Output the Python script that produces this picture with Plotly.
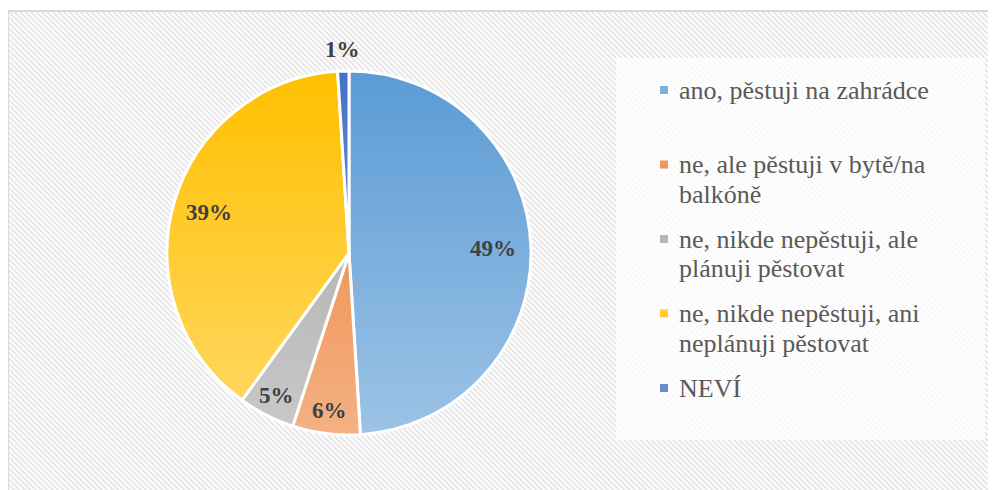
import base64
import math
import plotly.graph_objects as go

W, H = 996, 490
OFF = 8  # page body margin shifts the figure by 8px

# data
labels = [
    "ano, pěstuji na zahrádce",
    "ne, ale pěstuji v bytě/na<br>balkóně",
    "ne, nikde nepěstuji, ale<br>plánuji pěstovat",
    "ne, nikde nepěstuji, ani<br>neplánuji pěstovat",
    "NEVÍ",
]
values = [49, 6, 5, 39, 1]
colors = ["#5b9bd5", "#ed7d31", "#a5a5a5", "#ffc000", "#4472c4"]

# label distance from centre, as a share of the radius (Excel "best fit")
label_r = [0.79, 0.87, 0.88, 0.80, 1.12]

SERIF = "Liberation Serif"


def svg_uri(svg):
    return "data:image/svg+xml;base64," + base64.b64encode(svg.encode()).decode()


def lighten(hex_col, t):
    c = [int(hex_col[i:i + 2], 16) for i in (1, 3, 5)]
    return "#" + "".join(f"{round(v + (255 - v) * t):02x}" for v in c)


# hatched chart-area background (light downward diagonal)
tile = 5
bg_src = svg_uri(
    f'<svg xmlns="http://www.w3.org/2000/svg" width="{W}" height="{H}">'
    f'<defs><pattern id="p" width="{tile}" height="{tile}" patternUnits="userSpaceOnUse">'
    f'<rect width="{tile}" height="{tile}" fill="#ffffff"/>'
    f'<path d="M-1,-1 L{tile+1},{tile+1} M-1,{tile-1} L1,{tile+1} M{tile-1},-1 L{tile+1},1" '
    f'stroke="#e3e3e3" stroke-width="1.6"/></pattern></defs>'
    f'<rect width="{W}" height="{H}" fill="url(#p)"/></svg>'
)

# vertical white gradient laid over the pie (Excel gradient fill look)
shade_src = svg_uri(
    '<svg xmlns="http://www.w3.org/2000/svg" viewBox="0 0 100 100" preserveAspectRatio="none">'
    '<defs><linearGradient id="g" x1="0" y1="0" x2="0" y2="1">'
    '<stop offset="0" stop-color="#fff" stop-opacity="0"/>'
    '<stop offset="1" stop-color="#fff" stop-opacity="0.4"/></linearGradient></defs>'
    '<circle cx="50" cy="50" r="50" fill="url(#g)"/></svg>'
)


def px(x):
    return (x - OFF) / W


def py(y):
    return 1 - (y - OFF) / H


cx, cy, r = 349, 253, 182

fig = go.Figure()
fig.add_trace(go.Pie(
    labels=labels, values=values, sort=False, direction="clockwise", rotation=0,
    marker=dict(colors=colors, line=dict(color="white", width=3)),
    textinfo="none",
    domain=dict(x=[px(cx - r), px(cx + r)], y=[py(cy + r), py(cy - r)]),
    showlegend=False, hoverinfo="label+percent",
))

annotations = []

# percentage labels, placed on each slice's mid angle
total = sum(values)
cum = 0
for v, f in zip(values, label_r):
    mid = (cum + v / 2) / total * 2 * math.pi
    cum += v
    lx = cx + f * r * math.sin(mid)
    ly = cy - f * r * math.cos(mid)
    annotations.append(dict(
        xref="paper", yref="paper", x=px(lx), y=py(ly), xanchor="center", yanchor="middle",
        text=f"<b>{round(v / total * 100)}%</b>", showarrow=False,
        font=dict(family=SERIF, size=23, color="#404040"),
    ))

shapes = [
    # frame (left + top edges visible)
    dict(type="line", xref="paper", yref="paper", x0=px(8), x1=px(8), y0=-0.1, y1=py(11),
         line=dict(color="#d9d9d9", width=2)),
    dict(type="line", xref="paper", yref="paper", x0=px(8), x1=1.1, y0=py(11), y1=py(11),
         line=dict(color="#d9d9d9", width=2)),
    # legend box
    dict(type="rect", xref="paper", yref="paper", x0=px(616), x1=px(985), y0=py(440), y1=py(58),
         fillcolor="rgba(255,255,255,0.75)", line=dict(width=0), layer="below"),
]

# manual legend so item spacing matches the original
y_item, item_step, line_step = 90, 74.5, 29.5
for i, (lab, col) in enumerate(zip(labels, colors)):
    yc = y_item + i * item_step
    shapes.append(dict(type="rect", xref="paper", yref="paper",
                       x0=px(660), x1=px(668), y0=py(yc + 4), y1=py(yc - 4),
                       fillcolor=lighten(col, 0.2), line=dict(width=0)))
    for k, line in enumerate(lab.split("<br>")):
        annotations.append(dict(
            xref="paper", yref="paper", x=px(677), y=py(yc + k * line_step),
            xanchor="left", yanchor="middle", text=line, showarrow=False,
            font=dict(family=SERIF, size=26, color="#595959"),
        ))

fig.update_layout(
    width=W, height=H, margin=dict(l=0, r=0, t=0, b=0),
    paper_bgcolor="white", plot_bgcolor="white",
    images=[
        dict(source=bg_src, xref="paper", yref="paper", x=px(8), y=py(11),
             sizex=1.1, sizey=1.1, xanchor="left", yanchor="top",
             sizing="stretch", layer="below"),
        dict(source=shade_src, xref="paper", yref="paper", x=px(cx - r), y=py(cy - r),
             sizex=2 * r / W, sizey=2 * r / H, xanchor="left", yanchor="top",
             sizing="stretch", layer="above"),
    ],
    shapes=shapes, annotations=annotations,
)

fig.write_html("out.html")
